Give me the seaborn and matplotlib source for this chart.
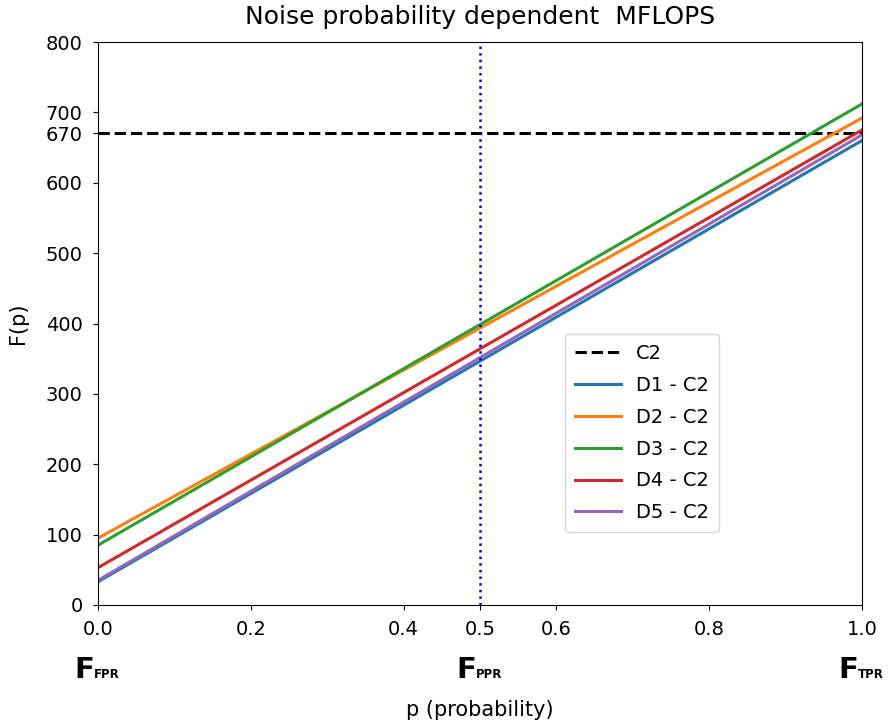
import matplotlib
matplotlib.use("Agg")
import matplotlib.pyplot as plt
import seaborn as sns
import pandas as pd

p_values = [0.0, 1.0]
d1_c2 = [33, 660]
d2_c2 = [95, 692]
d3_c2 = [85, 712]
d4_c2 = [53, 675]
d5_c2 = [35, 668]
series_names = ["D1 - C2", "D2 - C2", "D3 - C2", "D4 - C2", "D5 - C2"]
c2_level = 670
ppr_p = 0.5
xtick_vals = [0.0, 0.2, 0.4, 0.5, 0.6, 0.8, 1.0]
ytick_vals = [0, 100, 200, 300, 400, 500, 600, 670, 700, 800]
bottom_positions = [0.0, 0.5, 1.0]
bottom_subs = ["FPR", "PPR", "TPR"]

rows = []
for name, vals in zip(series_names, [d1_c2, d2_c2, d3_c2, d4_c2, d5_c2]):
    for p, v in zip(p_values, vals):
        rows.append({"p": p, "F": v, "series": name})
df = pd.DataFrame(rows)

plt.rcParams["font.family"] = ["DejaVu Sans"]

fig = plt.figure(figsize=(8.88, 7.27), dpi=100)
ax = fig.add_axes([98/888, 1-605/727, (862-98)/888, (605-42)/727])

ax.axhline(c2_level, color="black", linestyle="--", linewidth=2.2, label="C2")
palette = sns.color_palette("tab10", 5)
sns.lineplot(data=df, x="p", y="F", hue="series", palette=palette, linewidth=2.2, ax=ax)
ax.axvline(ppr_p, color="blue", linestyle=":", linewidth=1.8)

ax.set_xlim(0, 1)
ax.set_ylim(0, 800)
ax.set_xticks(xtick_vals)
ax.set_xticklabels([f"{v:.1f}" for v in xtick_vals])
ax.set_yticks(ytick_vals)
ax.tick_params(labelsize=14, pad=7.5)

for xv, sub in zip(bottom_positions, bottom_subs):
    ax.annotate("F", xy=(xv, 0), xycoords=("data", "axes fraction"),
                xytext=(-4, -73), textcoords="offset pixels",
                ha="right", va="baseline", fontsize=21, fontweight="bold",
                annotation_clip=False)
    ax.annotate(sub, xy=(xv, 0), xycoords=("data", "axes fraction"),
                xytext=(-4, -73), textcoords="offset pixels",
                ha="left", va="baseline", fontsize=8.5, fontweight="bold",
                annotation_clip=False)

ax.set_xlabel("p (probability)", fontsize=15, labelpad=44)
ax.set_ylabel("F(p)", fontsize=15, labelpad=13)
ax.set_title("Noise probability dependent  MFLOPS", fontsize=18, pad=13)

handles, labels = ax.get_legend_handles_labels()
ax.legend(handles, labels, loc="lower left", bbox_to_anchor=(0.611, 0.1297),
          borderaxespad=0, fontsize=14, labelspacing=0.66, handlelength=2.37,
          borderpad=0.5, title=None)

fig.savefig("out.png", dpi=100)
